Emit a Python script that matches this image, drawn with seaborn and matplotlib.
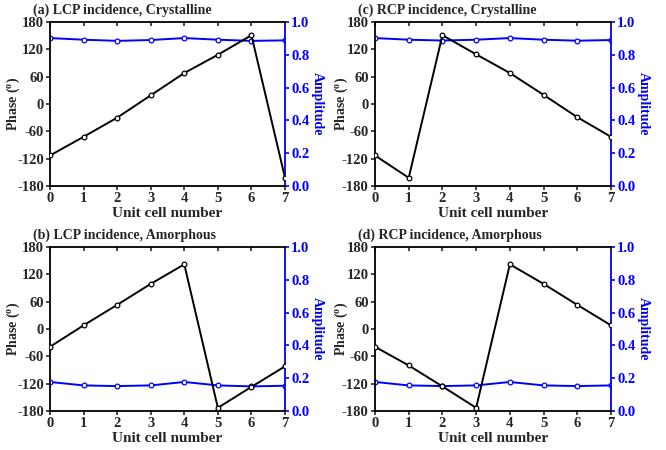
import numpy as np
import pandas as pd
import matplotlib
matplotlib.use("Agg")
import matplotlib.pyplot as plt
import seaborn as sns

cells = [0, 1, 2, 3, 4, 5, 6, 7]

phase_lcp_cry = [-113, -72, -30, 19, 68, 108, 151, -162]
amp_lcp_cry = [0.902, 0.892, 0.885, 0.890, 0.902, 0.892, 0.885, 0.888]

phase_rcp_cry = [-113, -162, 151, 109, 68, 20, -29, -72]
amp_rcp_cry = [0.902, 0.892, 0.887, 0.892, 0.902, 0.892, 0.886, 0.890]

phase_lcp_amo = [-39, 8, 53, 99, 142, -173, -127, -82]
amp_lcp_amo = [0.177, 0.156, 0.152, 0.156, 0.177, 0.156, 0.150, 0.154]

phase_rcp_amo = [-39, -80, -126, -173, 142, 99, 53, 8]
amp_rcp_amo = [0.177, 0.156, 0.152, 0.156, 0.177, 0.156, 0.152, 0.156]

titles = ["(a) LCP incidence, Crystalline", "(c) RCP incidence, Crystalline",
          "(b) LCP incidence, Amorphous", "(d) RCP incidence, Amorphous"]
phases = [phase_lcp_cry, phase_rcp_cry, phase_lcp_amo, phase_rcp_amo]
amps = [amp_lcp_cry, amp_rcp_cry, amp_lcp_amo, amp_rcp_amo]

phase_ticks = [-180, -120, -60, 0, 60, 120, 180]
amp_ticks = [0.0, 0.2, 0.4, 0.6, 0.8, 1.0]

sns.set_style("ticks")
plt.rcParams["font.family"] = ["Liberation Serif", "DejaVu Serif"]
plt.rcParams["font.weight"] = "bold"
plt.rcParams["axes.labelweight"] = "bold"
plt.rcParams["mathtext.fontset"] = "custom"
plt.rcParams["mathtext.rm"] = "Liberation Serif"
plt.rcParams["mathtext.bf"] = "Liberation Serif:bold"

fig = plt.figure(figsize=(6.66, 4.5), dpi=100)
positions = [
    (50 / 666, 1 - 186 / 450, 235 / 666, 164 / 450),
    (375 / 666, 1 - 186 / 450, 236 / 666, 164 / 450),
    (50 / 666, 1 - 411 / 450, 235 / 666, 164 / 450),
    (375 / 666, 1 - 411 / 450, 236 / 666, 164 / 450),
]
ylab_x = [-0.119, -0.106, -0.119, -0.106]
fs_tick = 10.5
fs_title = 10
fs_xlab = 11
fs_ylab = 10
blue = "#0000FF"
for pos, title, ph, am, lx in zip(positions, titles, phases, amps, ylab_x):
    ax = fig.add_axes(pos)
    df = pd.DataFrame({"cell": cells, "phase": ph, "amp": am})
    sns.lineplot(data=df, x="cell", y="phase", ax=ax, color="black", lw=1.4,
                 marker="o", markersize=3.4, markerfacecolor="white",
                 markeredgecolor="black", markeredgewidth=0.9, zorder=3)
    ax2 = ax.twinx()
    sns.lineplot(data=df, x="cell", y="amp", ax=ax2, color=blue, lw=1.4,
                 marker="o", markersize=3.4, markerfacecolor="white",
                 markeredgecolor=blue, markeredgewidth=0.9, zorder=2)
    ax.set_xlim(0, 7)
    ax.set_ylim(-180, 180)
    ax2.set_ylim(0, 1.0)
    ax.set_xticks(cells)
    ax.set_yticks(phase_ticks)
    ax2.set_yticks(amp_ticks)
    ax.set_xticklabels([str(c) for c in cells], fontsize=fs_tick, fontweight="bold")
    ax.set_yticklabels([str(t) for t in phase_ticks], fontsize=fs_tick, fontweight="bold")
    ax2.set_yticklabels([f"{t:.1f}" for t in amp_ticks], fontsize=fs_tick,
                        fontweight="bold", color=blue)
    ax.set_xlabel("Unit cell number", fontsize=fs_xlab, fontweight="bold", labelpad=1)
    ax.set_ylabel(r"Phase ($\mathbf{^o}$)", fontsize=fs_ylab, fontweight="bold")
    ax.yaxis.set_label_coords(lx, 0.5)
    ax2.set_ylabel("Amplitude", fontsize=fs_ylab, fontweight="bold", color=blue,
                   rotation=270, labelpad=10)
    for s in ["left", "bottom", "top"]:
        ax.spines[s].set_linewidth(1.3)
        ax.spines[s].set_color("black")
    ax2.spines["right"].set_color(blue)
    ax2.spines["right"].set_linewidth(1.3)
    for s in ["left", "bottom", "top"]:
        ax2.spines[s].set_visible(False)
    ax.spines["right"].set_visible(False)
    ax.tick_params(axis="both", direction="out", length=3, width=1.2, pad=1.5)
    ax.tick_params(axis="x", top=True, labeltop=False)
    for t in ax.xaxis.get_major_ticks():
        t.tick2line.set_marker(3)
    ax2.tick_params(axis="y", direction="out", length=3, width=1.2, colors=blue, pad=1.5)
    ax.set_zorder(ax2.get_zorder() + 1)
    ax.patch.set_visible(False)
    ax.text(-0.072, 1.03, title, transform=ax.transAxes, fontsize=fs_title,
            fontweight="bold", ha="left", va="bottom")

fig.savefig("out.png", dpi=100)
